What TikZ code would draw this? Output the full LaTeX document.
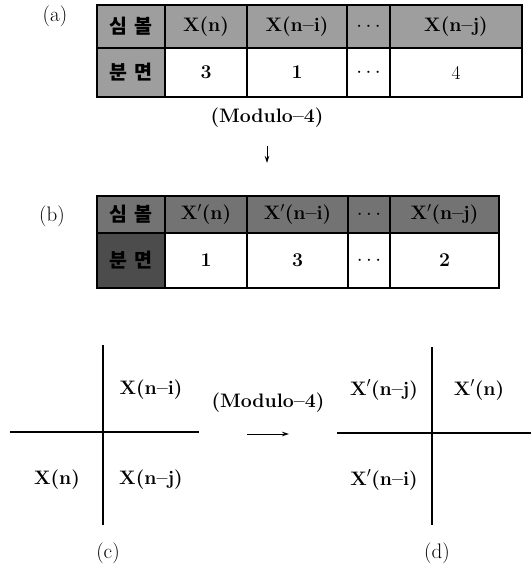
\documentclass[tikz,border=0pt]{standalone}
\usepackage{fontspec}
\newfontfamily\kr{Noto Sans CJK KR}
\usetikzlibrary{arrows.meta}
\definecolor{hdrA}{gray}{0.62}
\definecolor{hdrB}{gray}{0.45}
\definecolor{sideB}{gray}{0.30}
\begin{document}
\begin{tikzpicture}[x=1pt,y=-1pt,
  every node/.style={font=\fontsize{19.5}{22}\selectfont\bfseries},
  cell/.style={draw=black, line width=1.1pt, inner sep=0pt, anchor=center},
  lbl/.style={font=\fontsize{21}{23}\selectfont},
  axis/.style={line width=1.1pt},
  arr/.style={line width=1pt, -{Stealth[length=7pt,width=4.5pt]}}]
\useasboundingbox (0,0) rectangle (531,568);
% ---------- table (a) ----------
\node[cell, fill=hdrA, minimum width=68pt, minimum height=43pt] (a11) at (131,26.5) {\kr 심\,\,볼};
\node[cell, fill=hdrA, minimum width=82pt, minimum height=43pt] (a12) at (206,26.5) {X(n)};
\node[cell, fill=hdrA, minimum width=100pt, minimum height=43pt] (a13) at (297,26.5) {X(n--i)};
\node[cell, fill=hdrA, minimum width=43pt, minimum height=43pt] (a14) at (368.5,26.5) {$\cdots$};
\node[cell, fill=hdrA, minimum width=132pt, minimum height=43pt] (a15) at (456,26.5) {X(n--j)};
\node[cell, fill=hdrA, minimum width=68pt, minimum height=49pt] (a21) at (131,72.5) {\kr 분\,\,면};
\node[cell, minimum width=82pt, minimum height=49pt] (a22) at (206,72.5) {3};
\node[cell, minimum width=100pt, minimum height=49pt] (a23) at (297,72.5) {1};
\node[cell, minimum width=43pt, minimum height=49pt] (a24) at (368.5,72.5) {$\cdots$};
\node[cell, minimum width=132pt, minimum height=49pt] (a25) at (456,72.5) {\mdseries 4};
\node[lbl] (la) at (55,16) {(a)};
% ---------- modulo arrow ----------
\node (mod1) at (267,118) {(Modulo--4)};
\coordinate (d1) at (267,146);
\coordinate (d2) at (267,163);
\draw[arr] (d1) -- (d2);
% ---------- table (b) ----------
\node[cell, fill=hdrB, minimum width=68pt, minimum height=37pt] (b11) at (131,214.5) {\kr 심\,\,볼};
\node[cell, fill=hdrB, minimum width=82pt, minimum height=37pt] (b12) at (206,214.5) {X$'$(n)};
\node[cell, fill=hdrB, minimum width=101pt, minimum height=37pt] (b13) at (297.5,214.5) {X$'$(n--i)};
\node[cell, fill=hdrB, minimum width=42pt, minimum height=37pt] (b14) at (369,214.5) {$\cdots$};
\node[cell, fill=hdrB, minimum width=109pt, minimum height=37pt] (b15) at (444.5,214.5) {X$'$(n--j)};
\node[cell, fill=sideB, minimum width=68pt, minimum height=55pt] (b21) at (131,260.5) {\kr 분\,\,면};
\node[cell, minimum width=82pt, minimum height=55pt] (b22) at (206,260.5) {1};
\node[cell, minimum width=101pt, minimum height=55pt] (b23) at (297.5,260.5) {3};
\node[cell, minimum width=42pt, minimum height=55pt] (b24) at (369,260.5) {$\cdots$};
\node[cell, minimum width=109pt, minimum height=55pt] (b25) at (444.5,260.5) {2};
\node[lbl] (lb) at (52,216) {(b)};
% ---------- cross (c) ----------
\coordinate (cT) at (103,345);
\coordinate (cB) at (103,525);
\coordinate (cL) at (10,432);
\coordinate (cR) at (199,432);
\draw[axis] (cT) -- (cB);
\draw[axis] (cL) -- (cR);
\node (c1) at (151,390) {X(n--i)};
\node (c2) at (57,480) {X(n)};
\node (c3) at (151,480) {X(n--j)};
\node[lbl] (lc) at (108,553) {(c)};
% ---------- middle arrow ----------
\node (mod2) at (268,403) {(Modulo--4)};
\coordinate (m1) at (247,434);
\coordinate (m2) at (289,434);
\draw[arr] (m1) -- (m2);
% ---------- cross (d) ----------
\coordinate (dT) at (432,347);
\coordinate (dB) at (432,525);
\coordinate (dL) at (337,433);
\coordinate (dR) at (531,433);
\draw[axis] (dT) -- (dB);
\draw[axis] (dL) -- (dR);
\node (e1) at (384,390) {X$'$(n--j)};
\node (e2) at (479,390) {X$'$(n)};
\node (e3) at (384,480) {X$'$(n--i)};
\node[lbl] (ld) at (437,553) {(d)};
\end{tikzpicture}
\end{document}
